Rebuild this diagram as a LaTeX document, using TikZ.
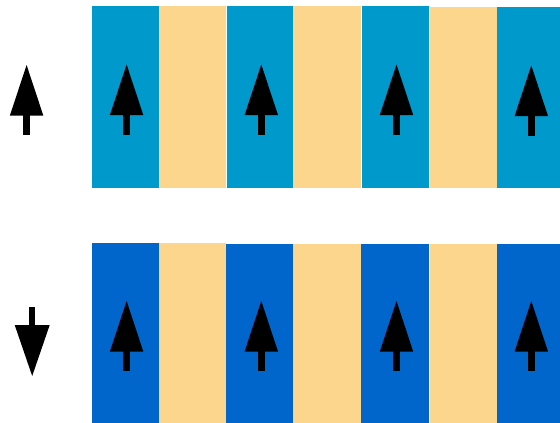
\documentclass[tikz,border=0pt]{standalone}
\definecolor{topblue}{HTML}{0099CC}
\definecolor{botblue}{HTML}{0066CC}
\definecolor{sand}{HTML}{FDD68D}
\tikzset{
  arrowfill/.style={fill=black, draw=none},
}
\newcommand{\spinup}[2]{%
  \fill[black] (#1,#2) -- (#1+16.7,#2+50.5) -- (#1-16.7,#2+50.5) -- cycle;
  \fill[black] (#1-3.2,#2+50) rectangle (#1+3.2,#2+70);
}
\newcommand{\spindown}[2]{%
  \fill[black] (#1,#2) -- (#1+17.5,#2-51) -- (#1-17.5,#2-51) -- cycle;
  \fill[black] (#1-3,#2-50.5) rectangle (#1+3,#2-69.5);
}
\begin{document}
\begin{tikzpicture}[x=1pt,y=-1pt]
\useasboundingbox (0,0) rectangle (560,423);
% top row
\fill[topblue] (92,6) rectangle (159,188);
\fill[sand] (159,6) rectangle (226,188);
\fill[topblue] (227,6) rectangle (293,188);
\fill[sand] (293,6) rectangle (361,188);
\fill[topblue] (362,6) rectangle (429,188);
\fill[sand] (429.5,6.5) rectangle (497,188);
\fill[topblue] (497,6.5) rectangle (560,188);
% bottom row
\fill[botblue] (92,242.7) rectangle (159,423);
\fill[sand] (159,242.7) rectangle (226,423);
\fill[botblue] (226,243.7) rectangle (293,423);
\fill[sand] (293,243.7) rectangle (361,423);
\fill[botblue] (361,243.7) rectangle (429,423);
\fill[sand] (429.5,243.7) rectangle (497,423);
\fill[botblue] (497,243.7) rectangle (560,423);
% arrows in stripes
\spinup{126.6}{64.5}
\spinup{261.3}{64.5}
\spinup{396.5}{64.5}
\spinup{531.3}{65.5}
\spinup{126.6}{301}
\spinup{261.3}{301}
\spinup{396.5}{301}
\spinup{531.3}{301}
% left arrows
\spinup{26.6}{65}
\spindown{32.2}{376}
\end{tikzpicture}
\end{document}
